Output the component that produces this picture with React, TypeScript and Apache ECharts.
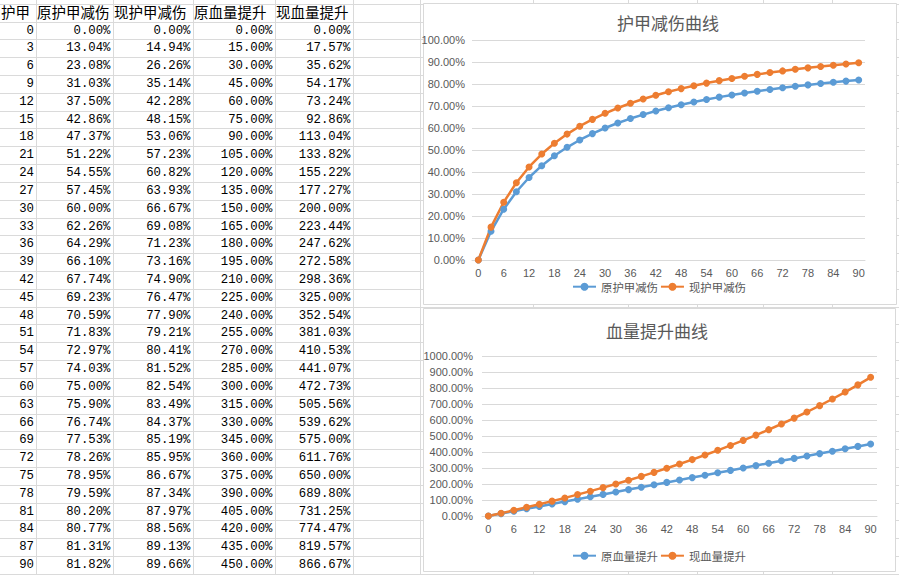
import React, { useEffect, useRef } from "react";
import * as echarts from "echarts";

const armor = [0, 3, 6, 9, 12, 15, 18, 21, 24, 27, 30, 33, 36, 39, 42, 45, 48, 51, 54, 57, 60, 63, 66, 69, 72, 75, 78, 81, 84, 87, 90];
const oldReduction = [0.00, 13.04, 23.08, 31.03, 37.50, 42.86, 47.37, 51.22, 54.55, 57.45, 60.00, 62.26, 64.29, 66.10, 67.74, 69.23, 70.59, 71.83, 72.97, 74.03, 75.00, 75.90, 76.74, 77.53, 78.26, 78.95, 79.59, 80.20, 80.77, 81.31, 81.82];
const newReduction = [0.00, 14.94, 26.26, 35.14, 42.28, 48.15, 53.06, 57.23, 60.82, 63.93, 66.67, 69.08, 71.23, 73.16, 74.90, 76.47, 77.90, 79.21, 80.41, 81.52, 82.54, 83.49, 84.37, 85.19, 85.95, 86.67, 87.34, 87.97, 88.56, 89.13, 89.66];
const oldHp = [0.00, 15.00, 30.00, 45.00, 60.00, 75.00, 90.00, 105.00, 120.00, 135.00, 150.00, 165.00, 180.00, 195.00, 210.00, 225.00, 240.00, 255.00, 270.00, 285.00, 300.00, 315.00, 330.00, 345.00, 360.00, 375.00, 390.00, 405.00, 420.00, 435.00, 450.00];
const newHp = [0.00, 17.57, 35.62, 54.17, 73.24, 92.86, 113.04, 133.82, 155.22, 177.27, 200.00, 223.44, 247.62, 272.58, 298.36, 325.00, 352.54, 381.03, 410.53, 441.07, 472.73, 505.56, 539.62, 575.00, 611.76, 650.00, 689.80, 731.25, 774.47, 819.57, 866.67];

const headers = ["护甲", "原护甲减伤", "现护甲减伤", "原血量提升", "现血量提升"];
const chart1Title = "护甲减伤曲线";
const chart2Title = "血量提升曲线";

const BLUE = "#5B9BD5";
const ORANGE = "#ED7D31";
const GRAY = "#595959";
const SHEET_LINE = "#dadada";

export default function App() {
  const ref = useRef<HTMLDivElement>(null);
  useEffect(() => {
    if (!ref.current) return;
    const chart = echarts.init(ref.current, undefined, { renderer: "svg" });

    const ROW_H = 17.82;
    const ROW0_LINE = 21.5;
    const colBounds = [36, 113, 193, 275, 353, 420];
    const bgCols = [533, 628, 697, 763, 832];
    const graphics: any[] = [];
    // sheet grid lines
    for (let i = -1; i <= 31; i++) {
      const y = Math.round(ROW0_LINE + ROW_H * i) + 0.5;
      graphics.push({ type: "line", z: -20, shape: { x1: 0, y1: y, x2: 899, y2: y }, style: { stroke: SHEET_LINE, lineWidth: 1 } });
    }
    [...colBounds, ...bgCols].forEach((x) => {
      graphics.push({ type: "line", z: -20, shape: { x1: x + 0.5, y1: 0, x2: x + 0.5, y2: 575 }, style: { stroke: SHEET_LINE, lineWidth: 1 } });
    });
    // chart boxes
    graphics.push({ type: "rect", z: -10, shape: { x: 423.5, y: 3.5, width: 473, height: 301 }, style: { fill: "#ffffff", stroke: "#d9d9d9", lineWidth: 1 } });
    graphics.push({ type: "rect", z: -10, shape: { x: 423.5, y: 308.5, width: 472, height: 263 }, style: { fill: "#ffffff", stroke: "#d9d9d9", lineWidth: 1 } });
    // header texts
    const colStarts = [0, 36, 113, 193, 275];
    headers.forEach((h, c) => {
      graphics.push({
        type: "text", z: 5, x: colStarts[c] + 1, y: 11,
        style: { text: h, fill: "#000", fontSize: 14.5, fontFamily: "Noto Sans CJK SC", align: "left", verticalAlign: "middle" },
      });
    });
    const fmt = (v: number) => v.toFixed(2) + "%";
    const cols = [oldReduction, newReduction, oldHp, newHp];
    armor.forEach((a, i) => {
      const y = 30.5 + ROW_H * i;
      graphics.push({
        type: "text", z: 5, x: 34, y,
        style: { text: String(a), fill: "#000", fontSize: 12.3, fontFamily: "Liberation Mono", align: "right", verticalAlign: "middle" },
      });
      cols.forEach((arr, c) => {
        graphics.push({
          type: "text", z: 5, x: colBounds[c + 1] - 2.5, y,
          style: { text: fmt(arr[i]), fill: "#000", fontSize: 12.3, fontFamily: "Liberation Mono", align: "right", verticalAlign: "middle" },
        });
      });
    });

    const cats = armor.map(String);
    const axisLabel = { color: GRAY, fontSize: 11, fontFamily: "Liberation Sans" };
    const legendText = { color: GRAY, fontSize: 11.4, fontFamily: "Noto Sans CJK SC" };
    const titleText = { color: GRAY, fontSize: 17, fontWeight: "normal", fontFamily: "Noto Sans CJK SC" };

    chart.setOption({
      animation: false,
      title: [
        { text: chart1Title, left: 612, top: 9, textStyle: titleText },
        { text: chart2Title, left: 601, top: 317, textStyle: titleText },
      ],
      legend: [
        { data: ["原护甲减伤", "现护甲减伤"], left: 572, top: 281, padding: 0, itemWidth: 23, itemHeight: 10, itemGap: 2, textStyle: legendText },
        { data: ["原血量提升", "现血量提升"], left: 572, top: 550, padding: 0, itemWidth: 23, itemHeight: 10, itemGap: 2, textStyle: legendText },
      ],
      grid: [
        { left: 472, width: 393, top: 40, height: 220 },
        { left: 482, width: 395, top: 356, height: 160 },
      ],
      xAxis: [0, 1].map((g) => ({
        type: "category", gridIndex: g, data: cats, boundaryGap: true,
        axisLine: { lineStyle: { color: "#d9d9d9" } }, axisTick: { show: false },
        axisLabel: { ...axisLabel, interval: 1, margin: 7 },
      })),
      yAxis: [
        { type: "value", gridIndex: 0, min: 0, max: 100, interval: 10, axisLabel: { ...axisLabel, margin: 7, formatter: (v: number) => v.toFixed(2) + "%" }, splitLine: { lineStyle: { color: "#d9d9d9" } }, axisLine: { show: false }, axisTick: { show: false } },
        { type: "value", gridIndex: 1, min: 0, max: 1000, interval: 100, axisLabel: { ...axisLabel, margin: 9, formatter: (v: number) => v.toFixed(2) + "%" }, splitLine: { lineStyle: { color: "#d9d9d9" } }, axisLine: { show: false }, axisTick: { show: false } },
      ],
      series: [
        { name: "原护甲减伤", type: "line", xAxisIndex: 0, yAxisIndex: 0, data: oldReduction, symbol: "circle", symbolSize: 7, lineStyle: { width: 2.5, color: BLUE }, itemStyle: { color: BLUE } },
        { name: "现护甲减伤", type: "line", xAxisIndex: 0, yAxisIndex: 0, data: newReduction, symbol: "circle", symbolSize: 7, lineStyle: { width: 2.5, color: ORANGE }, itemStyle: { color: ORANGE } },
        { name: "原血量提升", type: "line", xAxisIndex: 1, yAxisIndex: 1, data: oldHp, symbol: "circle", symbolSize: 7, lineStyle: { width: 2.5, color: BLUE }, itemStyle: { color: BLUE } },
        { name: "现血量提升", type: "line", xAxisIndex: 1, yAxisIndex: 1, data: newHp, symbol: "circle", symbolSize: 7, lineStyle: { width: 2.5, color: ORANGE }, itemStyle: { color: ORANGE } },
      ],
      graphic: { elements: graphics },
    });
    return () => chart.dispose();
  }, []);
  return <div ref={ref} style={{ position: "fixed", left: 0, top: 0, width: 899, height: 575, background: "#fff" }} />;
}
